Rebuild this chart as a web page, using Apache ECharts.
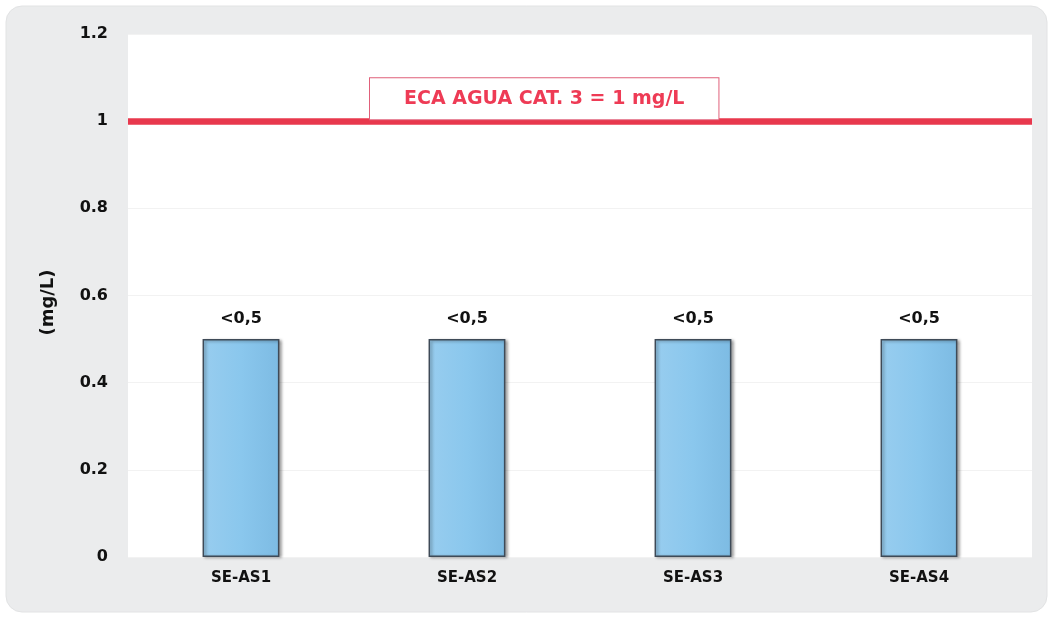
<!DOCTYPE html>
<html>
<head>
<meta charset="utf-8">
<script src="https://cdn.jsdelivr.net/npm/echarts@6/dist/echarts.min.js"></script>
<style>
html,body{margin:0;padding:0;background:#ffffff;}
#chart{width:1053px;height:618px;}
</style>
</head>
<body>
<div id="chart"></div>
<script>
const categories = ['SE-AS1', 'SE-AS2', 'SE-AS3', 'SE-AS4'];
const values = [0.5, 0.5, 0.5, 0.5];
const barLabels = ['<0,5', '<0,5', '<0,5', '<0,5'];
const limitValue = 1;
const limitLabel = 'ECA AGUA CAT. 3 = 1 mg/L';
const yTicks = { min: 0, max: 1.2, interval: 0.2 };

const chart = echarts.init(document.getElementById('chart'), null, { renderer: 'canvas' });
const font = '"DejaVu Sans", Verdana, sans-serif';

chart.setOption({
  animation: false,
  backgroundColor: '#ffffff',
  graphic: [{
    type: 'rect', z: -10, silent: true,
    shape: { x: 6, y: 6, width: 1041, height: 606, r: 16 },
    style: { fill: '#ebeced', stroke: '#e2e3e4', lineWidth: 1 }
  }],
  grid: { left: 128, right: 21, top: 34, bottom: 61, show: true, backgroundColor: '#ffffff', borderWidth: 0 },
  xAxis: {
    type: 'category',
    data: categories,
    axisLine: { show: false },
    axisTick: { show: false },
    axisLabel: { color: '#111111', fontWeight: 'bold', fontSize: 15, fontFamily: font, margin: 14 }
  },
  yAxis: {
    type: 'value',
    min: yTicks.min, max: yTicks.max, interval: yTicks.interval,
    name: '(mg/L)',
    nameLocation: 'middle',
    nameGap: 71,
    nameRotate: 90,
    nameTextStyle: { color: '#111111', fontWeight: 'bold', fontSize: 18, fontFamily: font, padding: [0, 14, 0, 0] },
    axisLine: { show: false },
    axisTick: { show: false },
    axisLabel: {
      color: '#111111', fontWeight: 'bold', fontSize: 16, fontFamily: font, margin: 20,
      formatter: v => String(Math.round(v * 10) / 10)
    },
    splitLine: { lineStyle: { color: '#f2f2f2', width: 1 } }
  },
  series: [{
    type: 'bar',
    data: values,
    barWidth: '34%',
    itemStyle: {
      color: new echarts.graphic.LinearGradient(0, 0, 1, 0, [
        { offset: 0, color: '#98cdef' },
        { offset: 0.5, color: '#8ac7ed' },
        { offset: 1, color: '#7dbbe3' }
      ]),
      borderColor: '#3e4a57',
      borderWidth: 1.5,
      shadowColor: 'rgba(0,0,0,0.35)',
      shadowBlur: 3,
      shadowOffsetX: 2,
      shadowOffsetY: 1
    },
    label: {
      show: true,
      position: 'top',
      distance: 12,
      formatter: p => barLabels[p.dataIndex],
      color: '#111111', fontWeight: 'bold', fontSize: 16, fontFamily: font
    },
    markLine: {
      silent: true,
      symbol: 'none',
      data: [{ yAxis: limitValue }],
      lineStyle: { color: '#e8384d', width: 6.5, type: 'solid' },
      label: {
        show: true,
        position: 'insideStartTop',
        formatter: limitLabel,
        color: '#ee3b55',
        fontWeight: 'bold',
        fontSize: 19,
        fontFamily: font,
        backgroundColor: '#ffffff',
        borderColor: '#e0607a',
        borderWidth: 1,
        padding: [11, 34, 11, 34],
        distance: [242, 2]
      }
    }
  }]
});
</script>
</body>
</html>
